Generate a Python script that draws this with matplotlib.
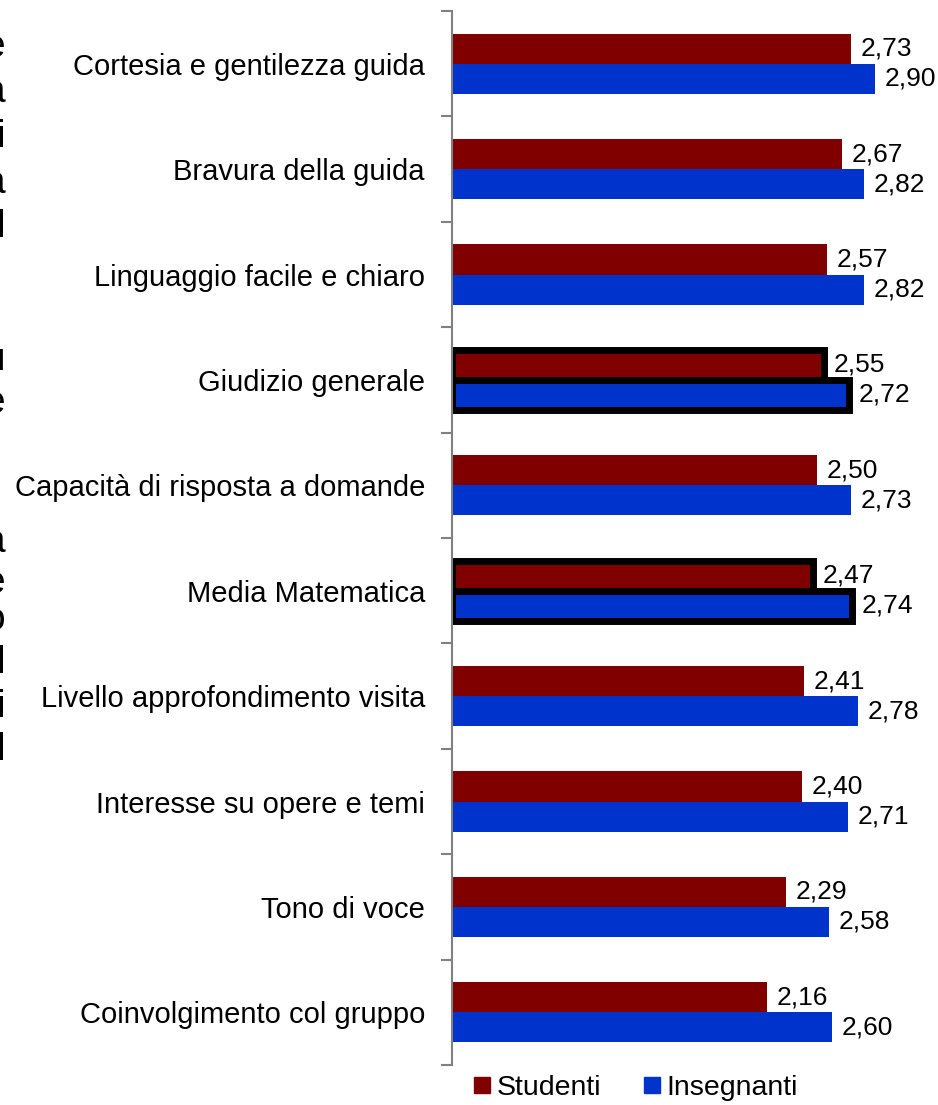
import matplotlib.pyplot as plt
import numpy as np
from matplotlib.lines import Line2D

plt.rcParams['font.family'] = ['Liberation Sans', 'DejaVu Sans']

# Dati
categorie = ['Cortesia e gentilezza guida', 'Bravura della guida', 'Linguaggio facile e chiaro',
             'Giudizio generale', 'Capacità di risposta a domande', 'Media Matematica',
             'Livello approfondimento visita', 'Interesse su opere e temi', 'Tono di voce',
             'Coinvolgimento col gruppo']
studenti = [2.73, 2.67, 2.57, 2.55, 2.50, 2.47, 2.41, 2.40, 2.29, 2.16]
insegnanti = [2.90, 2.82, 2.82, 2.72, 2.73, 2.74, 2.78, 2.71, 2.58, 2.60]
evidenziate = ['Giudizio generale', 'Media Matematica']

# Frammenti di testo tagliati sul bordo sinistro
frammenti = ['e', 'a', 'i', 'a', 'l', 'u', 'e', 'a', 'e', 'o', 'l', 'i', 'l']
frammenti_y = [57, 102, 147, 193, 237, 370, 413, 552, 593, 630, 673, 717, 760]

rosso = '#800000'
blu = '#0033CC'

fig = plt.figure(figsize=(9.38, 11.05), dpi=100)
ax = fig.add_axes([452 / 938, 1 - 1065 / 1105, 0.5136, 1054 / 1105])

y = np.arange(len(categorie))
h = 0.285

for i, cat in enumerate(categorie):
    lw = 5 if cat in evidenziate else 0
    ec = 'black' if cat in evidenziate else 'none'
    ax.barh(y[i] - h / 2, studenti[i], height=h, color=rosso, edgecolor=ec, linewidth=lw)
    ax.barh(y[i] + h / 2, insegnanti[i], height=h, color=blu, edgecolor=ec, linewidth=lw)

# Etichette dei valori
for i in range(len(categorie)):
    for val, off in [(studenti[i], -h / 2), (insegnanti[i], h / 2)]:
        ax.annotate(f'{val:.2f}'.replace('.', ','), (val, y[i] + off),
                    xytext=(7, 0), textcoords='offset points',
                    ha='left', va='center', fontsize=19, annotation_clip=False)

ax.set_xlim(0, 3.3)
ax.set_ylim(len(categorie) - 0.5, -0.5)
ax.set_yticks(y)
ax.set_yticklabels(categorie, fontsize=21)
ax.set_yticks(np.arange(len(categorie) + 1) - 0.5, minor=True)
ax.tick_params(axis='y', which='major', length=0, pad=19.5)
ax.tick_params(axis='y', which='minor', length=8, width=1.5, color='#808080')
ax.set_xticks([])
for s in ['top', 'right', 'bottom']:
    ax.spines[s].set_visible(False)
ax.spines['left'].set_color('#808080')
ax.spines['left'].set_linewidth(1.5)

for ch, yy in zip(frammenti, frammenti_y):
    fig.text(5 / 938, 1 - yy / 1105, ch, ha='right', va='baseline', fontsize=28)

# Legenda
handles = [Line2D([], [], marker='s', linestyle='none', color=rosso, markersize=11),
           Line2D([], [], marker='s', linestyle='none', color=blu, markersize=11)]
fig.legend(handles, ['Studenti', 'Insegnanti'], loc='center', ncol=2, frameon=False,
           bbox_to_anchor=(636 / 938, 1 - 1088 / 1105), fontsize=20.5,
           handlelength=0.55, handletextpad=0.25, columnspacing=1.5)

fig.savefig('out.png', dpi=100)
